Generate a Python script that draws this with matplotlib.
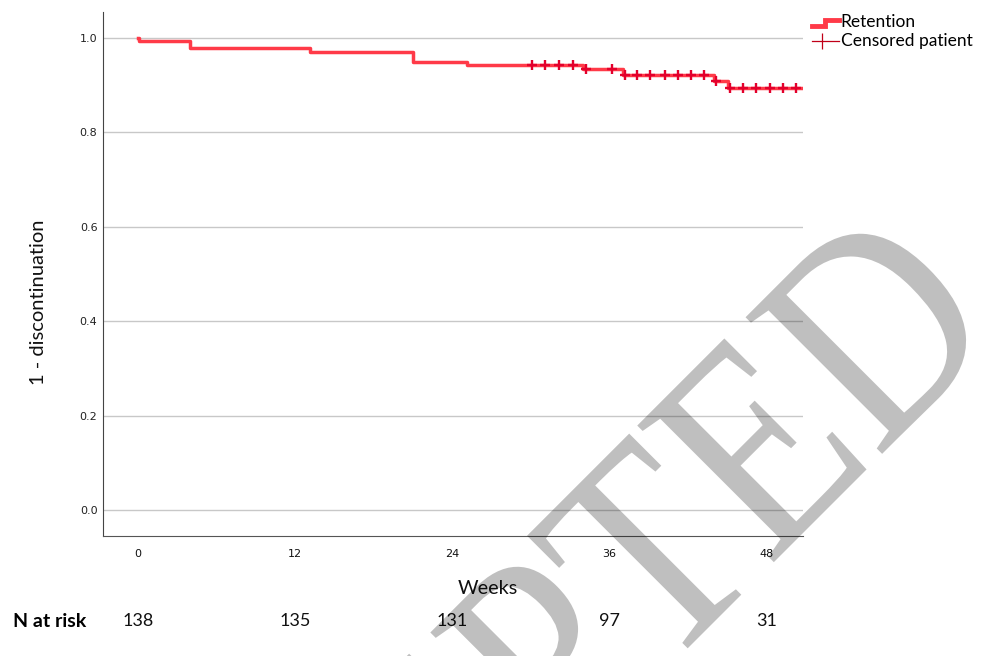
import numpy as np
import matplotlib
matplotlib.use("Agg")
import matplotlib.pyplot as plt
from matplotlib.lines import Line2D
from matplotlib.legend_handler import HandlerBase
from matplotlib.textpath import TextPath
from matplotlib.font_manager import FontProperties
from matplotlib.patches import PathPatch
from matplotlib.transforms import Affine2D, IdentityTransform

# Kaplan-Meier retention (weeks)
step_weeks = [0.0, 0.1, 4.0, 13.1, 21.0, 25.1, 34.0, 37.0, 44.0, 45.0]
step_surv = [1.0, 0.993, 0.978, 0.971, 0.949, 0.942, 0.934, 0.922, 0.908, 0.895]
end_week = 50.8
censor_weeks = [30.1, 31.1, 32.1, 33.2, 34.2, 36.2, 37.2, 38.1, 39.1, 40.2,
                41.2, 42.2, 43.2, 44.1, 45.2, 46.2, 47.2, 48.2, 49.2, 50.2]

risk_weeks = [0, 12, 24, 36, 48]
n_at_risk = [138, 135, 131, 97, 31]

line_col = "#ff3a48"
cross_col = "#e3002c"
txt_font = "Lato"

fig = plt.figure(figsize=(9.81, 6.56), dpi=100)
ax = fig.add_axes([0.105, 0.1829, 0.7136, 0.7988])

sx = step_weeks + [end_week]
sy = step_surv + [step_surv[-1]]
ax.step(sx, sy, where="post", color=line_col, lw=2.5, zorder=3)

idx = np.searchsorted(step_weeks, censor_weeks, side="right") - 1
cy = np.array(step_surv)[idx]
ax.plot(censor_weeks, cy, ls="none", marker="+", ms=7, mew=1.7,
        color=cross_col, zorder=4)

ax.set_xlim(-2.67, 50.76)
ax.set_ylim(-0.055, 1.055)
ax.set_xticks(risk_weeks)
ax.set_yticks([0.0, 0.2, 0.4, 0.6, 0.8, 1.0])
ax.set_yticklabels(["0.0", "0.2", "0.4", "0.6", "0.8", "1.0"])
ax.tick_params(axis="y", length=0, pad=4, labelsize=8, colors="#222222")
ax.tick_params(axis="x", length=0, pad=9, labelsize=8, colors="#111111")
ax.yaxis.grid(True, color="#c8c8c8", lw=1)
ax.set_axisbelow(True)
for s in ["top", "right"]:
    ax.spines[s].set_visible(False)
ax.spines["left"].set_color("#444444")
ax.spines["bottom"].set_color("#555555")

ax.set_ylabel("1 - discontinuation", fontsize=14.5, family=txt_font, color="#111111")
ax.yaxis.set_label_coords(-0.08, 0.447)
ax.set_xlabel("Weeks", fontsize=14.3, family=txt_font, color="#111111")
ax.xaxis.set_label_coords(0.549, -0.083)

# numbers at risk under each tick
tr = ax.get_xaxis_transform()
for w, n in zip(risk_weeks, n_at_risk):
    ax.text(w, -0.162, str(n), transform=tr, ha="center", va="center",
            fontsize=13, family=txt_font, color="#111111")
fig.text(0.051, 0.053, "N at risk", ha="center", va="center",
         fontsize=14, family=txt_font, weight="bold")


class StepHandler(HandlerBase):
    def create_artists(self, legend, orig, xd, yd, w, h, fontsize, trans):
        xs = [xd, xd + w * 0.47, xd + w * 0.47, xd + w]
        ys = [yd + h * 0.15, yd + h * 0.15, yd + h * 0.6, yd + h * 0.6]
        ln = Line2D(xs, ys, color=line_col, lw=3.5, transform=trans,
                    solid_joinstyle="miter")
        return [ln]


class CensorHandler(HandlerBase):
    def create_artists(self, legend, orig, xd, yd, w, h, fontsize, trans):
        ln = Line2D([xd, xd + w], [yd + h * 0.45, yd + h * 0.45], color="#c00018",
                    lw=0.9, transform=trans)
        mk = Line2D([xd + w * 0.36], [yd + h * 0.45], marker="|", ms=12, mew=0.9,
                    color="#c00018", ls="none", transform=trans)
        return [ln, mk]


h1 = Line2D([], [], color=line_col)
h2 = Line2D([], [], color=cross_col)
fig.legend([h1, h2], ["Retention", "Censored patient"],
           handler_map={h1: StepHandler(), h2: CensorHandler()},
           loc="upper left", bbox_to_anchor=(0.8277, 0.978), frameon=False,
           prop={"family": txt_font, "size": 12.5}, handlelength=1.55,
           handletextpad=0.1, labelspacing=0.15, borderaxespad=0, borderpad=0)

# diagonal watermark, condensed serif lettering
wm = TextPath((0, 0), "ACCEPTED", size=295,
              prop=FontProperties(family="Liberation Serif"))
ext = wm.get_extents()
wm_tf = Affine2D().translate(-ext.x1, 0).scale(0.85, 1).rotate_deg(45).translate(998, 318)
fig.add_artist(PathPatch(wm_tf.transform_path(wm), facecolor="black", alpha=0.25,
                         lw=0, transform=IdentityTransform(), zorder=10))

fig.savefig("out.png", dpi=100)
